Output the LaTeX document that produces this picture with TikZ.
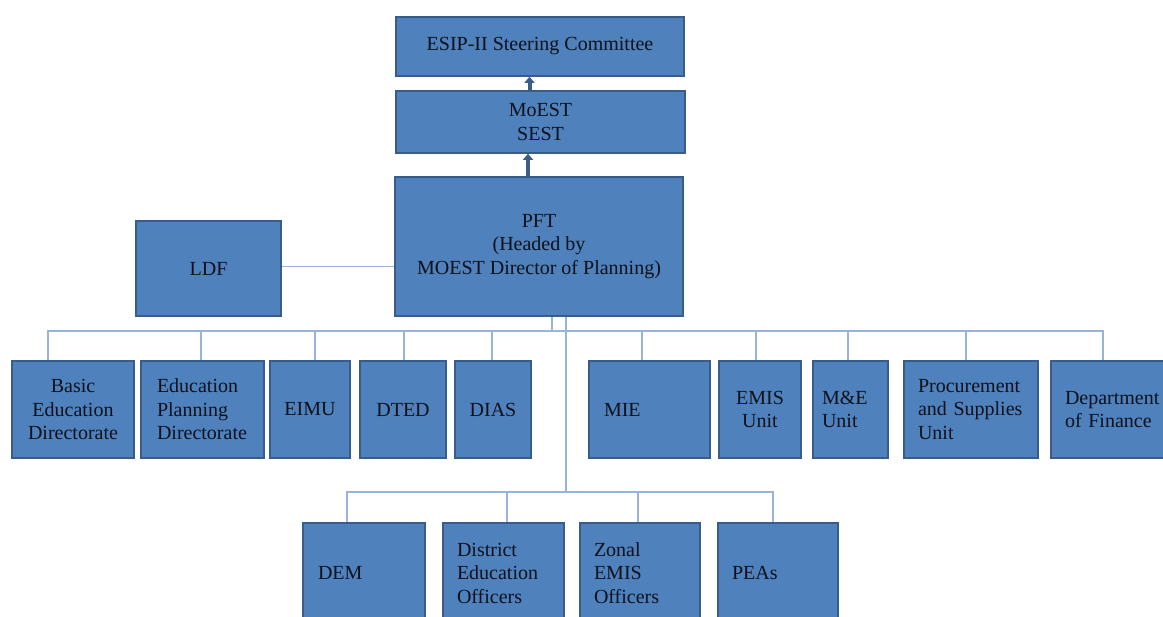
\documentclass[tikz,border=0pt]{standalone}
\usepackage{fontspec}
\setmainfont{Liberation Serif}
\usetikzlibrary{arrows.meta,positioning,calc}
\definecolor{boxfill}{RGB}{79,129,189}
\definecolor{boxedge}{RGB}{56,93,138}
\definecolor{linkblue}{RGB}{152,181,216}
\definecolor{inkdark}{RGB}{14,17,26}

\begin{document}
\begin{tikzpicture}[x=1pt,y=-1pt,
  unit/.style={draw=boxedge,fill=boxfill,line width=1.6pt,text=inkdark,inner sep=0pt,align=center,
    font=\fontsize{20}{23.5}\selectfont},
  lunit/.style={unit,align=left},
  link/.style={linkblue,line width=1.6pt},
  upline/.style={boxedge,line width=4pt,-{Triangle[width=10pt,length=6pt]}}]
\useasboundingbox (0,0) rectangle (1163,617);
\clip (0,0) rectangle (1163,617);
\node[unit,minimum width=288pt,minimum height=59pt] (esip) at (540,46.5) {ESIP-II Steering Committee};
\node[unit,minimum width=289pt,minimum height=62pt] (moest) at (540.5,122) {MoEST\\SEST};
\node[unit,minimum width=288pt,minimum height=139pt] (pft) at (539,246.5) {PFT\\(Headed by\\MOEST Director of Planning)};
\node[unit,minimum width=145pt,minimum height=95pt] (ldf) at (208.5,268.5) {LDF};
\node[unit,minimum width=122pt,minimum height=97pt] (bed) at (73,409.5) {Basic\\Education\\Directorate};
\node[lunit,text width=91pt,inner xsep=16pt,minimum height=97pt] (epd) at (202.5,409.5) {Education\\Planning\\Directorate};
\node[unit,minimum width=80pt,minimum height=97pt] (eimu) at (310,409.5) {EIMU};
\node[unit,minimum width=86pt,minimum height=97pt] (dted) at (403,409.5) {DTED};
\node[unit,minimum width=76pt,minimum height=97pt] (dias) at (493,409.5) {DIAS};
\node[lunit,text width=91pt,inner xsep=15pt,minimum height=97pt] (mie) at (649.5,409.5) {MIE};
\node[unit,minimum width=82pt,minimum height=97pt] (emis) at (760,409.5) {EMIS\\Unit};
\node[lunit,text width=57pt,inner xsep=9pt,minimum height=97pt] (mne) at (850.5,409.5) {M\&E\\Unit};
\node[lunit,text width=106pt,inner xsep=14pt,minimum height=97pt] (proc) at (971,409.5) {Procurement\\and Supplies\\Unit};
\node[lunit,text width=92pt,inner xsep=14pt,minimum height=97pt] (fin) at (1111,409.5) {Department\\of Finance};
\node[lunit,text width=92pt,inner xsep=15pt,minimum height=100pt] (dem) at (364,573) {DEM};
\node[lunit,text width=93pt,inner xsep=14pt,minimum height=100pt] (deo) at (503.5,573) {District\\Education\\Officers};
\node[lunit,text width=92pt,inner xsep=14pt,minimum height=100pt] (zeo) at (640,573) {Zonal\\EMIS\\Officers};
\node[lunit,text width=92pt,inner xsep=14pt,minimum height=100pt] (peas) at (778,573) {PEAs};
\coordinate (bus) at (552,331);
\coordinate (lowbus) at (566,492);
\draw[upline] ([xshift=-11pt]pft.north) -- ([xshift=-11pt]pft.north |- moest.south);
\draw[upline] ([xshift=-11pt]moest.north) -- ([xshift=-11pt]moest.north |- esip.south);
\draw[link] ([yshift=2pt]ldf.east) -- ([yshift=2pt]ldf.east -| pft.west);
\draw[link] (bus |- pft.south) -- (bus);
\draw[link] (bus) -| ([xshift=-25pt]bed.north);
\draw[link] (bus) -| ([xshift=-1.5pt]epd.north);
\draw[link] (bus) -| ([xshift=5pt]eimu.north);
\draw[link] (bus) -| ([xshift=1pt]dted.north);
\draw[link] (bus) -| ([xshift=-1pt]dias.north);
\draw[link] (bus) -| ([xshift=-7.5pt]mie.north);
\draw[link] (bus) -| ([xshift=-4pt]emis.north);
\draw[link] (bus) -| ([xshift=-2.5pt]mne.north);
\draw[link] (bus) -| ([xshift=-5pt]proc.north);
\draw[link] (bus) -| ([xshift=-8pt]fin.north);
\draw[link] (lowbus |- pft.south) -- (lowbus);
\draw[link] (lowbus) -| ([xshift=-17pt]dem.north);
\draw[link] (lowbus) -| ([xshift=3.5pt]deo.north);
\draw[link] (lowbus) -| ([xshift=-2pt]zeo.north);
\draw[link] (lowbus) -| ([xshift=-5pt]peas.north);
\end{tikzpicture}
\end{document}
